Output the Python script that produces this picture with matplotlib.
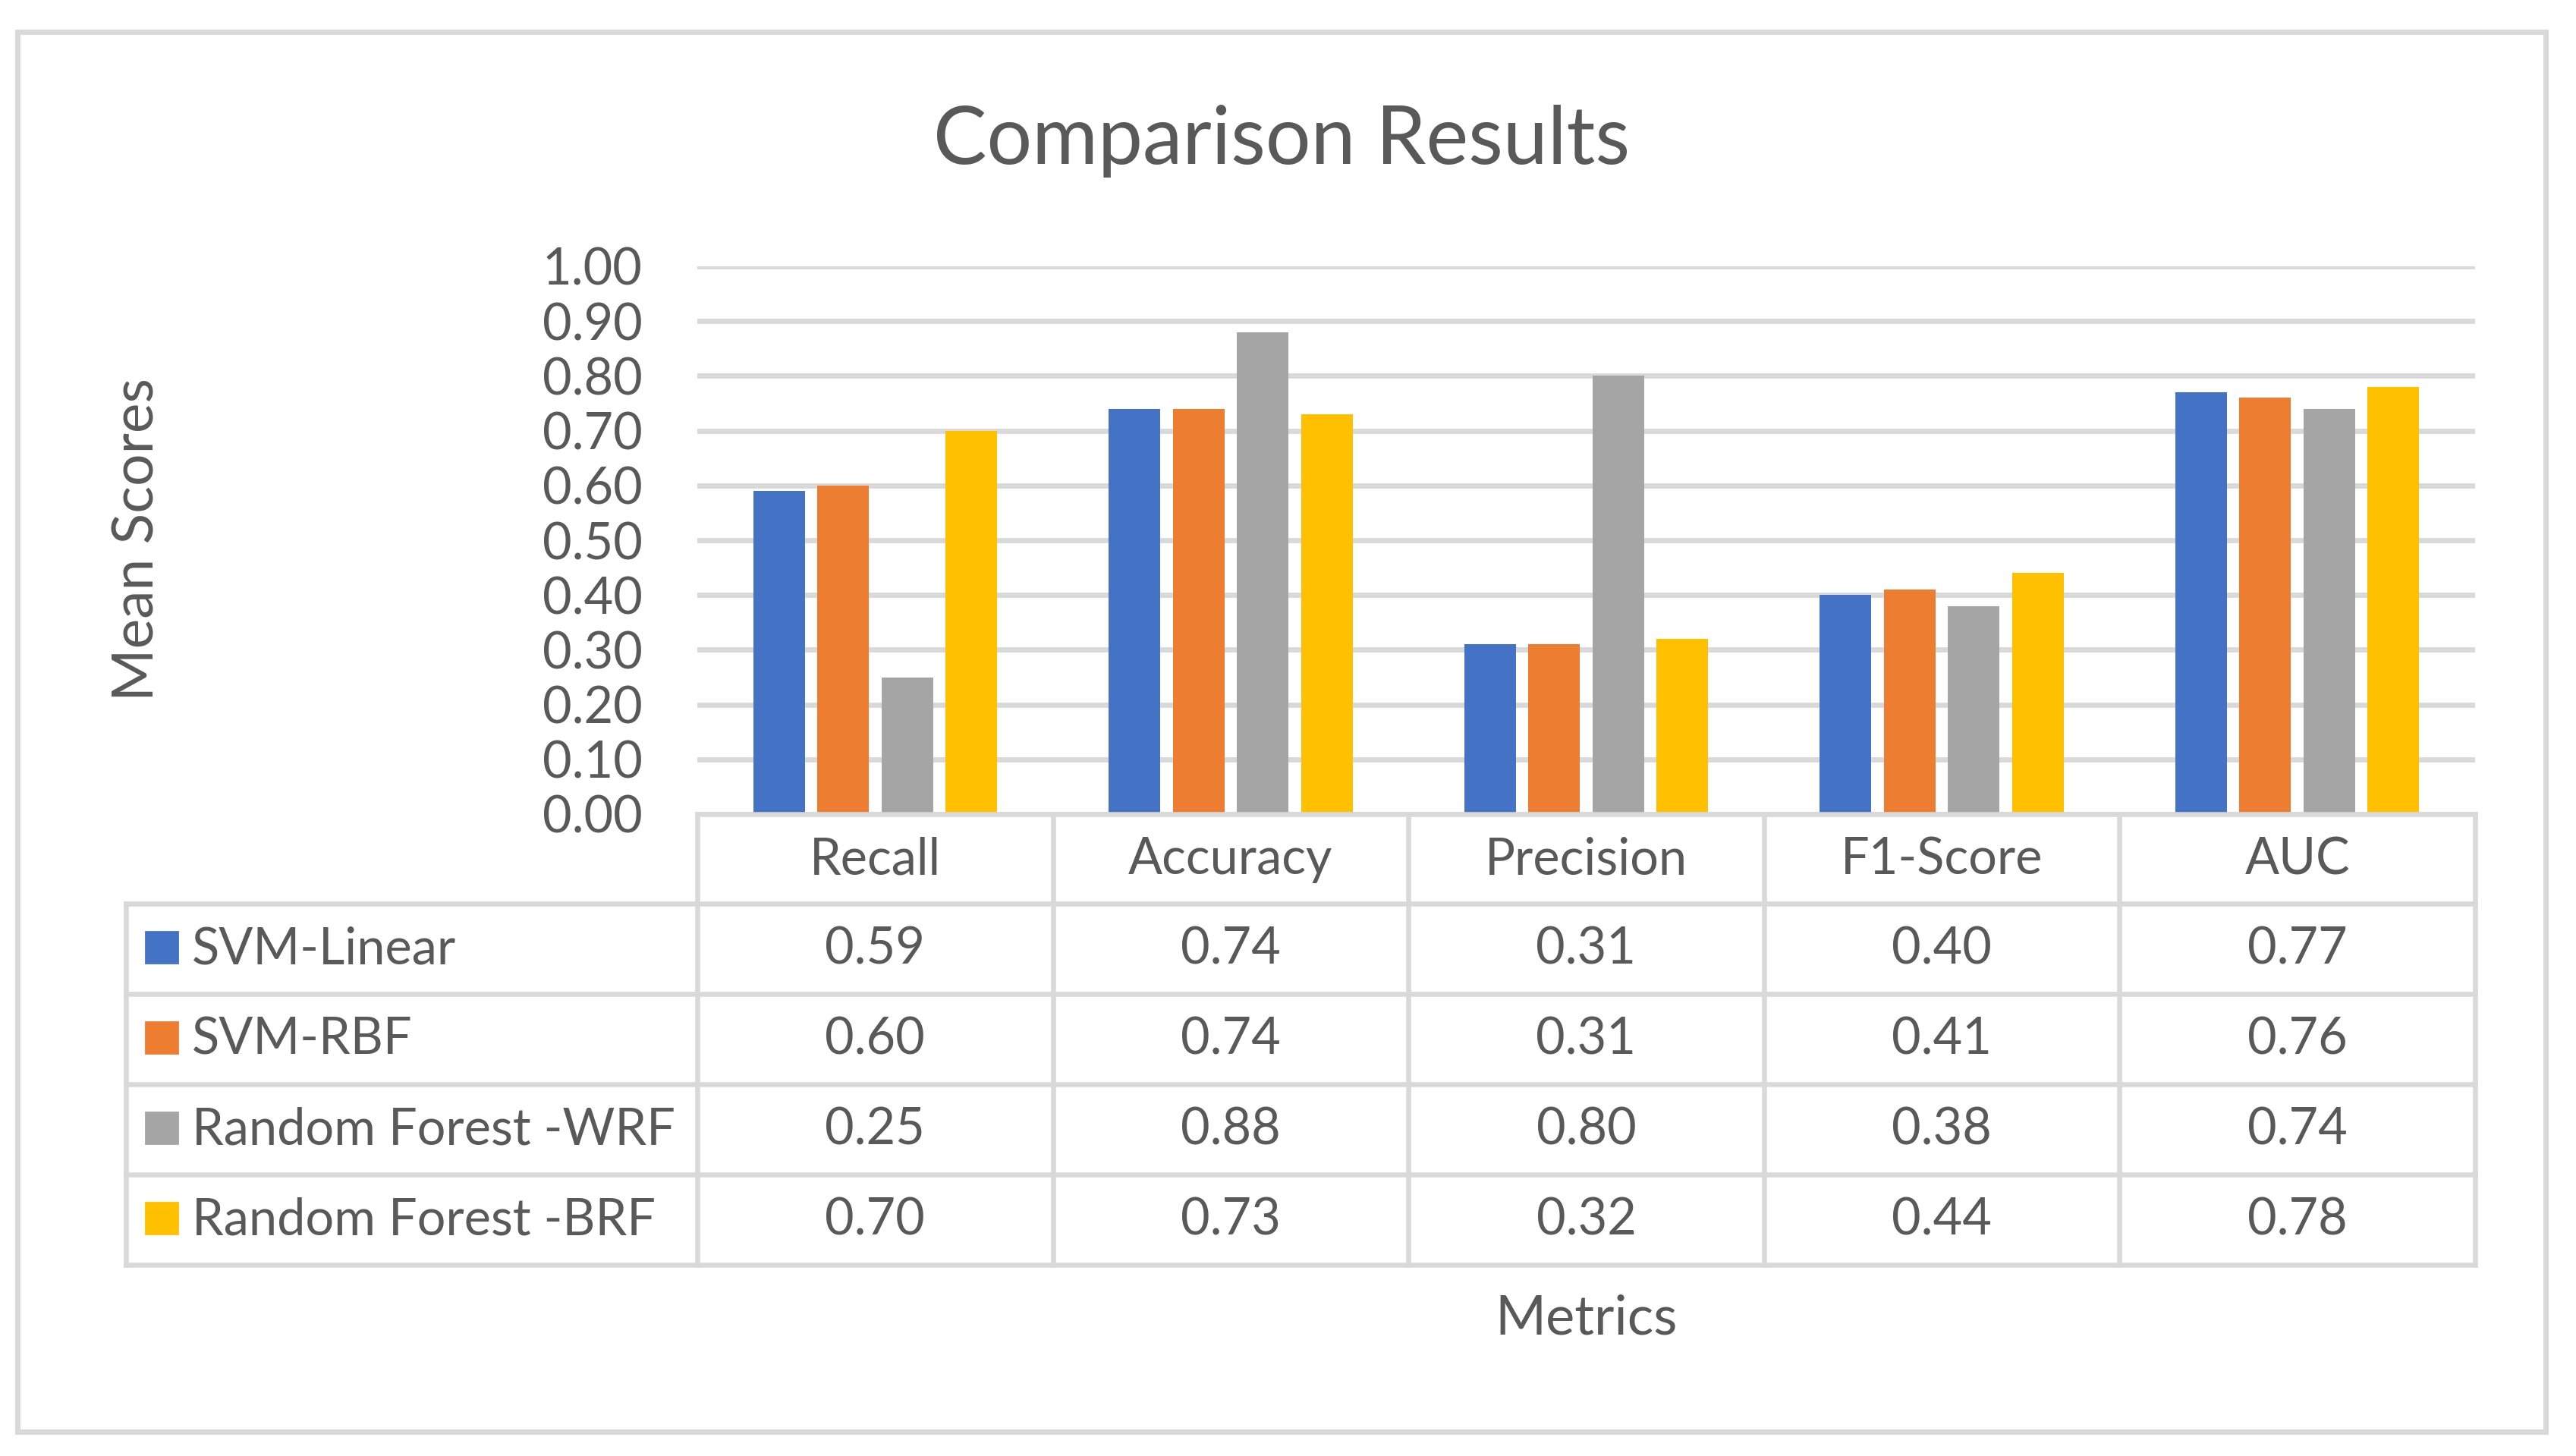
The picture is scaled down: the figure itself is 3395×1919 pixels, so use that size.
import matplotlib
matplotlib.use("Agg")
import matplotlib.pyplot as plt
import matplotlib.transforms as mtransforms
from matplotlib.lines import Line2D
from matplotlib.patches import Rectangle
import numpy as np

# ---------------- data ----------------
metrics = ["Recall", "Accuracy", "Precision", "F1-Score", "AUC"]
models = ["SVM-Linear", "SVM-RBF", "Random Forest -WRF", "Random Forest -BRF"]
svm_linear = [0.59, 0.74, 0.31, 0.40, 0.77]
svm_rbf = [0.60, 0.74, 0.31, 0.41, 0.76]
rf_wrf = [0.25, 0.88, 0.80, 0.38, 0.74]
rf_brf = [0.70, 0.73, 0.32, 0.44, 0.78]
y_ticks = [0.0, 0.1, 0.2, 0.3, 0.4, 0.5, 0.6, 0.7, 0.8, 0.9, 1.0]
title = "Comparison Results"
x_label = "Metrics"
y_label = "Mean Scores"

series = [svm_linear, svm_rbf, rf_wrf, rf_brf]
colors = ["#4472C4", "#ED7D31", "#A5A5A5", "#FFC000"]

# ---------------- style ----------------
W, H, DPI = 3395, 1919, 200
plt.rcParams["font.family"] = ["Lato", "DejaVu Sans"]
TXT = "#595959"
LINE = "#D9D9D9"

fig = plt.figure(figsize=(W / DPI, H / DPI), dpi=DPI)
fig.patch.set_facecolor("white")

# plot area in pixels
px_left, px_right, px_top, px_bottom = 919, 3262, 351, 1073
ax = fig.add_axes([px_left / W, 1 - px_bottom / H,
                   (px_right - px_left) / W, (px_bottom - px_top) / H])
ax_h_px = px_bottom - px_top

x = np.arange(len(metrics))
step = 0.1803
bw = 0.145
for i, (vals, c) in enumerate(zip(series, colors)):
    ax.bar(x + (i - 1.5) * step, vals, width=bw, color=c, zorder=3, label=models[i])

ax.set_xlim(-0.5, len(metrics) - 0.5)
ax.set_ylim(0, 1.0)
ax.set_yticks(y_ticks)
ax.set_yticklabels([f"{t:.2f}" for t in y_ticks], fontsize=24, color=TXT)
ax.tick_params(axis="y", length=0, pad=26)
ax.set_xticks([])
for s in ax.spines.values():
    s.set_visible(False)
ax.yaxis.grid(True, color=LINE, linewidth=2.45, zorder=0)
ax.set_axisbelow(True)

# ---------------- data table ----------------
trans = mtransforms.blended_transform_factory(ax.transData, ax.transAxes)
col_w_px = (px_right - px_left) / len(metrics)
leg_left = -0.5 - (px_left - 166) / col_w_px
col_edges = np.arange(len(metrics) + 1) - 0.5
row_px = [0, 118, 237, 356, 475, 594]
row_y = [-r / ax_h_px for r in row_px]
lw_t = 2.35

def hline(x0, x1, y):
    ax.add_line(Line2D([x0, x1], [y, y], transform=trans, color=LINE,
                       lw=lw_t, clip_on=False, zorder=5, solid_capstyle="projecting"))

def vline(xv, y0, y1):
    ax.add_line(Line2D([xv, xv], [y0, y1], transform=trans, color=LINE,
                       lw=lw_t, clip_on=False, zorder=5, solid_capstyle="projecting"))

hline(col_edges[0], col_edges[-1], row_y[0])
for yv in row_y[1:]:
    hline(leg_left, col_edges[-1], yv)
for xe in col_edges:
    vline(xe, row_y[0], row_y[-1])
vline(leg_left, row_y[1], row_y[-1])

FS = 24
def baseline(r):
    return row_y[r] + (row_y[r + 1] - row_y[r]) * 0.67

for j, m in enumerate(metrics):
    ax.text(x[j], baseline(0), m, transform=trans, ha="center", va="baseline",
            fontsize=FS, color=TXT)

mk_w = (234 - 192) / col_w_px
mk_h = 41 / ax_h_px
for i, (name, vals, c) in enumerate(zip(models, series, colors)):
    r = i + 1
    ymid = (row_y[r] + row_y[r + 1]) / 2
    mx0 = leg_left + (192 - 166) / col_w_px
    ax.add_patch(Rectangle((mx0, ymid - mk_h / 2 + 2 / ax_h_px), mk_w, mk_h,
                           transform=trans, color=c, clip_on=False, zorder=5))
    ax.text(leg_left + (253 - 166) / col_w_px, baseline(r), name, transform=trans,
            ha="left", va="baseline", fontsize=FS, color=TXT)
    for j, v in enumerate(vals):
        ax.text(x[j], baseline(r), f"{v:.2f}", transform=trans, ha="center",
                va="baseline", fontsize=FS, color=TXT)

# ---------------- titles ----------------
fig.text(1689 / W, 1 - 216 / H, title, ha="center", va="baseline",
         fontsize=38, color=TXT)
ax.text(2, -(1758 - px_bottom) / ax_h_px, x_label, transform=trans, ha="center",
        va="baseline", fontsize=26, color=TXT)
fig.text(181 / W, 1 - 711 / H, y_label, rotation=90, ha="center", va="center",
         fontsize=27, color=TXT)

# outer chart border
fig.add_artist(Rectangle((23 / W, 1 - 1887 / H), (3355 - 23) / W, (1887 - 42) / H,
                         transform=fig.transFigure, fill=False, ec=LINE, lw=2.5))

fig.savefig("out.png", dpi=DPI, facecolor="white")
